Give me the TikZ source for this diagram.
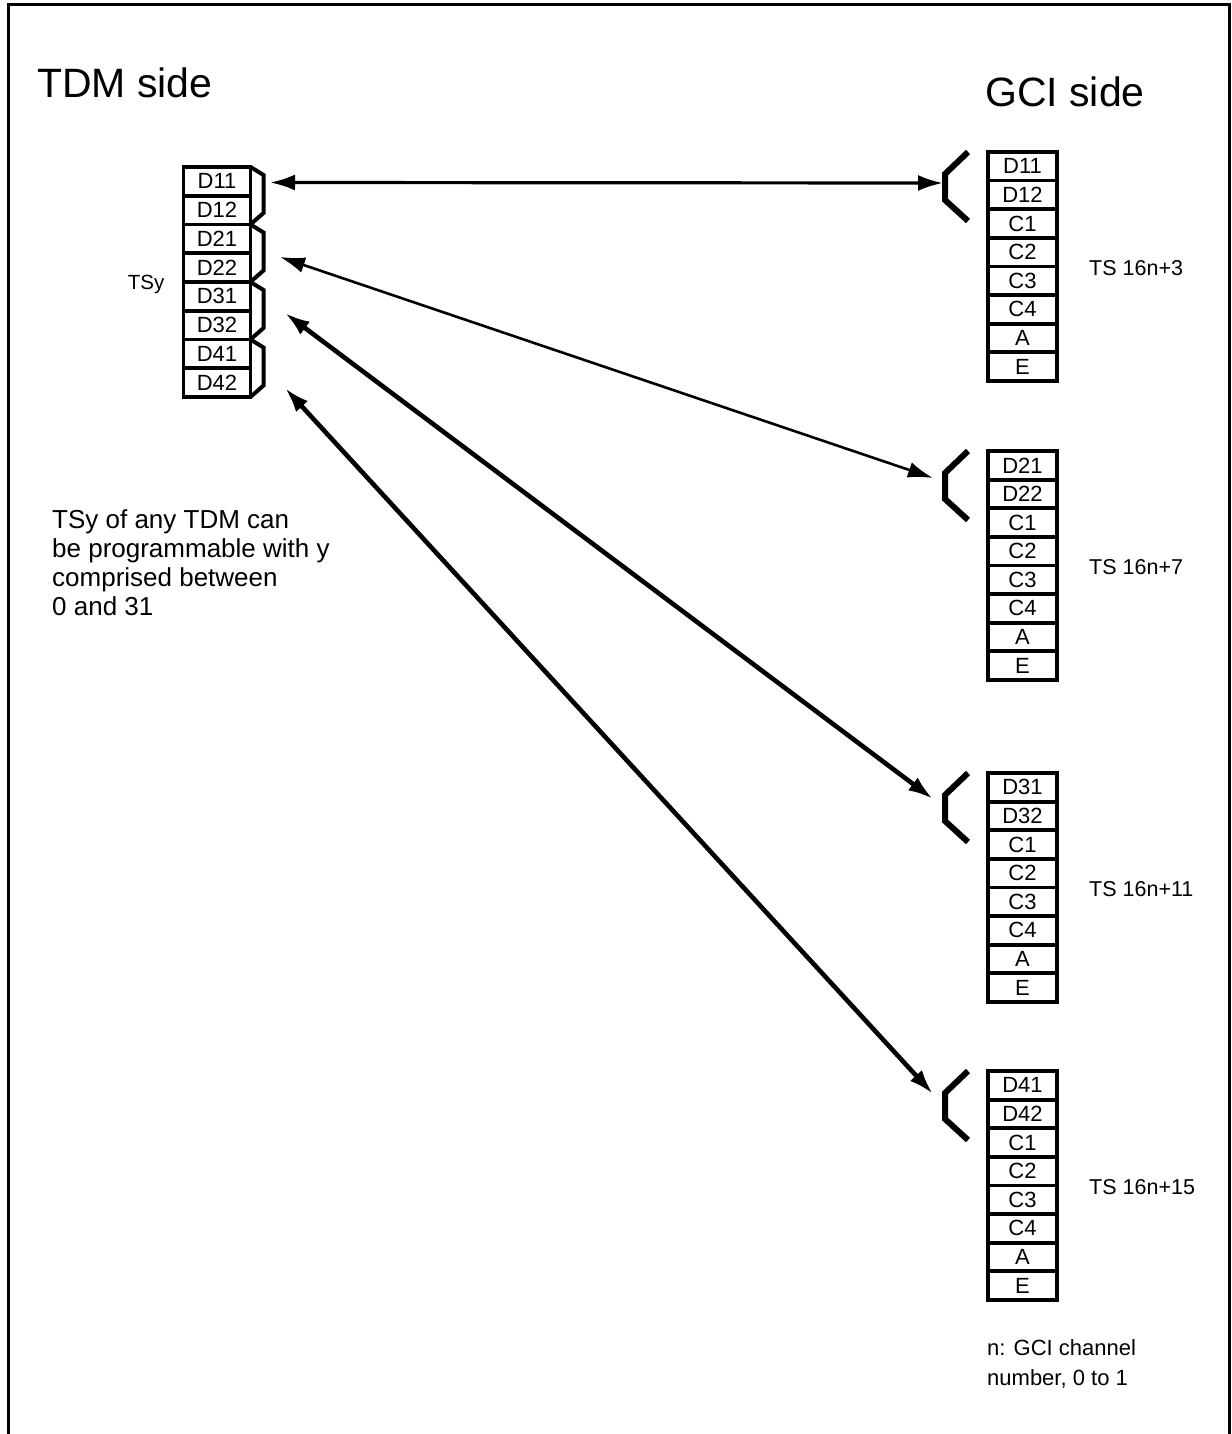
\documentclass[tikz,border=0pt]{standalone}
\usepackage{fontspec}
\setmainfont{Liberation Sans}
\usetikzlibrary{positioning, arrows.meta}

\tikzset{
    slot/.style={draw, line width=3.6pt, minimum width=67pt, minimum height=28.7pt,
                 inner sep=0pt, outer sep=0pt, anchor=north, font=\fontsize{22}{22}\selectfont},
    gslot/.style={slot, minimum width=69pt},
    brace/.style={line width=4pt, line join=miter},
    fork/.style={line width=6pt, line join=miter},
    link/.style={{Latex[length=25pt,width=16pt]}-{Latex[length=25pt,width=16pt]}, line width=3.2pt},
    heavylink/.style={link, line width=4.6pt},
    sidelabel/.style={font=\fontsize{41}{41}\selectfont, anchor=base west, inner sep=0pt},
    tslabel/.style={font=\fontsize{21.5}{21.5}\selectfont, inner sep=0pt},
}

\begin{document}
\begin{tikzpicture}[x=1pt, y=-1pt]
    \useasboundingbox (0,0) rectangle (1231,1434);
    % open frame, no bottom edge
    \draw[line width=3pt] (8,1434) -- (8,5) -- (1229,5) -- (1229,1434);

    \node[sidelabel] (tdm) at (37,98) {TDM side};
    \node[sidelabel] (gci) at (985,107) {GCI side};

    % TDM time slot
    \foreach \lbl [count=\i] in {D11,D12,D21,D22,D31,D32,D41,D42}
        \node[slot] (t\i) at (217,{167+28.75*(\i-1)}) {\lbl};
    \foreach \k in {1,...,4} {
        \pgfmathtruncatemacro\ta{2*\k-1}
        \pgfmathtruncatemacro\tb{2*\k}
        \draw[brace] (t\ta.north east) -- ++(13,8) -- ++(0,38) -- (t\tb.south east);
    }
    \node[tslabel, font=\fontsize{20.5}{20.5}\selectfont, left=19pt of t4.south west, yshift=-3pt] (tsy) {TSy};

    % GCI channels
    \foreach \k/\top/\dx/\dy in {1/152/-45/31, 2/451/-55/27, 3/773/-55/26, 4/1071/-55/23} {
        \foreach \lbl [count=\i] in {D\k1,D\k2,C1,C2,C3,C4,A,E}
            \node[gslot] (g\k-\i) at (1022.5,{\top+28.6*(\i-1)}) {\lbl};
        \draw[fork] (g\k-1.north west) ++(-20,0) -- ++(-23,22) -- ++(0,26) -- ++(23,21);
        \coordinate (gin\k) at ([shift={(\dx,\dy)}]g\k-1.north west);
        \pgfmathtruncatemacro\tsn{4*\k-1}
        \node[tslabel, right=32pt of g\k-4.south east, yshift=-2pt] (ts\k) {TS 16n+\tsn};
    }

    \coordinate (tout1) at (270,182.5);
    \coordinate (tout2) at (280,257);
    \coordinate (tout3) at (285,313);
    \coordinate (tout4) at (285,388);

    \draw[link] (tout1) -- (gin1);
    \draw[link, line width=2.6pt] (tout2) -- (gin2);
    \draw[heavylink] (tout3) -- (gin3);
    \draw[heavylink] (tout4) -- (gin4);

    \node[anchor=north west, align=left, inner sep=0pt, font=\fontsize{26}{29}\selectfont] (note) at (52,509)
        {TSy of any TDM can\\be programmable with y\\comprised between\\0 and 31};
    \node[anchor=north west, align=left, inner sep=0pt, font=\fontsize{22}{30}\selectfont] (nnote) at (987,1339)
        {n: GCI channel\\number, 0 to 1};
\end{tikzpicture}
\end{document}
